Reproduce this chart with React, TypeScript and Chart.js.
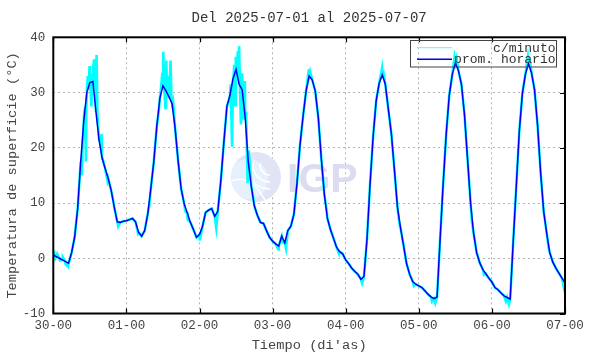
import React, { useEffect, useRef } from "react";
import { Chart, registerables } from "chart.js";

Chart.register(...registerables);

const TITLE = "Del 2025-07-01 al 2025-07-07";
const X_TITLE = "Tiempo (di'as)";
const Y_TITLE = "Temperatura de superficie (°C)";
const dayTickLabels = ["30-00", "01-00", "02-00", "03-00", "04-00", "05-00", "06-00", "07-00"];
const seriesNames = ["c/minuto", "prom. horario"];
const watermarkText = "IGP";

// hourly means, hour 0 = 30-00 ... hour 168 = 07-00
const hourlyTemp = [
  // 30
  0.6, 0.3, 0.0, -0.3, -0.6, -0.9, 1.0, 3.8, 9.0, 17.5, 24.8, 30.0, 31.8, 32.0, 26.5, 21.5, 18.2, 16.3, 14.5, 12.3, 9.3, 6.6, 6.5, 6.7,
  // 01
  6.8, 7.0, 7.2, 6.6, 4.7, 4.0, 5.0, 8.0, 12.5, 17.5, 24.0, 29.0, 31.2, 30.3, 29.2, 28.0, 23.5, 17.5, 12.5, 9.8, 8.2, 6.5, 5.2, 3.8,
  // 02
  4.3, 5.8, 8.3, 8.7, 9.0, 7.6, 8.5, 14.0, 21.0, 27.5, 29.5, 32.5, 34.2, 31.5, 30.5, 25.5, 17.5, 13.0, 9.5, 7.8, 6.5, 6.3, 5.0, 3.8,
  // 03
  3.1, 2.6, 2.2, 4.0, 2.8, 5.0, 5.8, 8.0, 13.5, 20.5, 25.7, 30.3, 33.0, 32.3, 30.3, 25.5, 18.0, 11.5, 7.2, 5.2, 3.6, 2.0, 1.2, 0.8,
  // 04
  -0.3, -1.0, -1.8, -2.4, -2.9, -3.8, -3.3, 3.5, 13.5, 22.0, 28.5, 31.7, 33.2, 31.5, 27.0, 22.5, 16.0, 9.2, 5.5, 2.3, -1.0, -2.9, -4.2, -4.7,
  // 05
  -5.0, -5.3, -5.9, -6.5, -7.0, -7.3, -7.0, 3.5, 13.5, 22.5, 29.5, 33.3, 35.3, 34.0, 31.5, 26.0, 18.0, 10.0, 4.5, 1.0, -0.8, -2.0, -2.8, -3.6,
  // 06
  -4.3, -5.3, -5.7, -6.3, -6.8, -7.1, -7.4, 3.0, 13.0, 23.0, 29.8, 33.3, 35.2, 33.6, 30.5, 24.0, 15.5, 8.5, 4.5, 1.0, -0.7, -1.8, -2.7, -3.6,
  // 07-00
  -4.4,
];

// extra per-minute readings (hour, value) where the minute series departs from the hourly mean
const minuteHours = [
  0.2, 0.7, 1.3, 2.2, 3.1, 4.0, 4.8, 5.3,
  9.3, 9.6, 10.2, 10.5, 10.7, 10.9, 11.3, 11.6, 11.9, 12.2, 12.5, 12.8, 13.1, 13.4, 13.6, 13.9, 14.2, 14.5, 15.6, 15.9, 16.2,
  17.8, 19.5, 21.3,
  27.8, 31.5, 34.6, 35.3, 35.8, 36.1, 36.4, 36.8, 37.1, 37.4, 37.7, 38.1, 38.5, 38.8, 39.3, 43.3, 44.1,
  48.1, 53.5, 57.6, 58.2, 58.7, 59.0, 59.4, 59.7, 59.9, 60.2, 60.6, 61.0, 61.3, 61.6, 62.0, 62.5, 62.9, 63.3, 63.8, 64.2, 65.5,
  73.9, 75.4, 76.4, 83.9, 84.3, 89.8, 93.8,
  101.4, 107.9, 108.4, 113.6, 118.4,
  124.3, 125.4, 131.7, 132.4, 137.4, 141.4,
  148.6, 149.6, 155.8, 156.5, 162.6, 167.6,
];
const minuteTemps = [
  1.4, 0.0, 0.8, -0.4, 0.2, -1.0, -1.5, -0.5,
  15.0, 20.0, 26.5, 27.5, 17.5, 29.0, 33.0, 30.5, 34.8, 31.0, 27.5, 33.5, 34.5, 36.0, 31.0, 33.0, 36.8, 26.0, 20.5, 22.5, 18.0,
  14.0, 11.0, 5.8,
  4.5, 9.5, 26.5, 30.5, 33.5, 37.4, 31.0, 27.2, 35.8, 29.0, 33.0, 30.0, 35.8, 29.0, 28.5, 8.5, 7.0,
  3.2, 5.5, 28.5, 31.5, 20.2, 31.0, 35.0, 27.7, 36.5, 33.0, 37.5, 38.4, 31.0, 24.2, 33.5, 25.1, 32.1, 26.5, 13.6, 19.5, 11.5,
  1.6, 2.8, 1.8, 34.2, 33.8, 8.5, 0.8,
  -4.5, 34.3, 33.6, 6.4, -5.0,
  -7.8, -8.1, 36.3, 36.2, 6.8, -3.0,
  -7.8, -8.3, 36.4, 35.7, 2.0, -5.2,
];

const MONO = "'Liberation Mono', 'DejaVu Sans Mono', monospace";

export default function App() {
  const ref = useRef<HTMLCanvasElement>(null);

  useEffect(() => {
    const canvas = ref.current;
    if (!canvas) return;

    const hourlyPts = hourlyTemp.map((y, i) => ({ x: i, y }));
    const minutePts = [
      ...hourlyPts,
      ...minuteHours.map((x, i) => ({ x, y: minuteTemps[i] })),
    ].sort((a, b) => a.x - b.x);

    const decor = {
      id: "decor",
      beforeDatasetsDraw(chart: any) {
        const ctx = chart.ctx as CanvasRenderingContext2D;
        ctx.save();
        const cx = 256, cy = 177, r = 25;
        ctx.beginPath();
        ctx.arc(cx, cy, r, 0, Math.PI * 2);
        ctx.fillStyle = "#e2e4f6";
        ctx.fill();
        ctx.save();
        ctx.beginPath();
        ctx.arc(cx, cy, r, 0, Math.PI * 2);
        ctx.clip();
        ctx.beginPath();
        ctx.arc(cx - 8, cy + 2, 20, 0, Math.PI * 2);
        ctx.fillStyle = "#e6f1fd";
        ctx.fill();
        ctx.strokeStyle = "#ffffff";
        ctx.lineWidth = 1.6;
        for (const rr of [10, 17, 24]) {
          ctx.beginPath();
          ctx.arc(cx + 14, cy - 12, rr, Math.PI * 0.5, Math.PI * 1.05);
          ctx.stroke();
        }
        ctx.beginPath();
        ctx.moveTo(cx - 25, cy + 4);
        ctx.quadraticCurveTo(cx - 5, cy - 4, cx + 10, cy + 25);
        ctx.stroke();
        ctx.restore();
        ctx.fillStyle = "#dcdcf1";
        ctx.font = "bold 41px 'Liberation Sans', Arial, sans-serif";
        ctx.textAlign = "left";
        ctx.textBaseline = "alphabetic";
        ctx.fillText(watermarkText, 287, 192);
        ctx.restore();
      },
      afterDraw(chart: any) {
        const ctx = chart.ctx as CanvasRenderingContext2D;
        const a = chart.chartArea;
        const xs = chart.scales.x;
        const ys = chart.scales.y;
        ctx.save();
        ctx.strokeStyle = "#000";
        ctx.lineWidth = 1.2;
        ctx.beginPath();
        for (let i = 0; i < dayTickLabels.length; i++) {
          const px = Math.round(xs.getPixelForValue(i * 24)) + 0.5;
          ctx.moveTo(px, a.bottom);
          ctx.lineTo(px, a.bottom - 5);
          ctx.moveTo(px, a.top);
          ctx.lineTo(px, a.top + 5);
        }
        for (const t of ys.ticks) {
          const py = Math.round(ys.getPixelForValue(t.value)) + 0.5;
          ctx.moveTo(a.right, py);
          ctx.lineTo(a.right - 5, py);
        }
        ctx.stroke();
        ctx.lineWidth = 2;
        ctx.strokeRect(a.left, a.top, a.right - a.left, a.bottom - a.top);
        ctx.fillStyle = "#333";
        ctx.font = `14px ${MONO}`;
        ctx.textAlign = "center";
        ctx.textBaseline = "middle";
        ctx.fillText(TITLE, (a.left + a.right) / 2, 18.5);
        ctx.strokeStyle = "#444";
        ctx.lineWidth = 1;
        ctx.strokeRect(410.5, 40.5, 146, 26.5);
        const rows = [
          { y: 47.7, color: "#7ff7ff", w: 1.2 },
          { y: 59.3, color: "#0000ee", w: 1.6 },
        ];
        ctx.font = `13px ${MONO}`;
        ctx.textAlign = "right";
        rows.forEach((row, i) => {
          ctx.strokeStyle = row.color;
          ctx.lineWidth = row.w;
          ctx.beginPath();
          ctx.moveTo(417, row.y);
          ctx.lineTo(452, row.y);
          ctx.stroke();
          ctx.fillStyle = "#333";
          ctx.fillText(seriesNames[i], 555.5, row.y + 0.5);
        });
        ctx.restore();
      },
    };

    const chart = new Chart(canvas, {
      type: "line",
      data: {
        datasets: [
          {
            label: seriesNames[0],
            data: minutePts,
            borderColor: "#00ffff",
            borderWidth: 2.6,
            pointRadius: 0,
            tension: 0,
            order: 1,
          },
          {
            label: seriesNames[1],
            data: hourlyPts,
            borderColor: "#0000ee",
            borderWidth: 1.5,
            pointRadius: 0,
            tension: 0,
            order: 0,
          },
        ],
      },
      options: {
        responsive: false,
        animation: false,
        events: [],
        layout: { padding: { top: 37.3, right: 25, left: 0, bottom: 0 } },
        plugins: {
          legend: { display: false },
          title: { display: false },
          tooltip: { enabled: false },
        },
        scales: {
          x: {
            type: "linear",
            min: 0,
            max: 168,
            ticks: {
              stepSize: 24,
              autoSkip: false,
              maxRotation: 0,
              padding: 5,
              color: "#444",
              font: { family: MONO, size: 12.5 },
              callback: (v: any) => dayTickLabels[Math.round(Number(v) / 24)] ?? "",
            },
            grid: { color: "#b4b4b4", lineWidth: 1, drawTicks: false },
            border: { display: false, dash: [2, 3] },
            title: {
              display: true,
              text: X_TITLE,
              color: "#444",
              font: { family: MONO, size: 13.7 },
              padding: { top: 0, bottom: 0 },
            },
            afterFit: (s: any) => {
              s.height = 40.5;
            },
          },
          y: {
            type: "linear",
            min: -10,
            max: 40,
            ticks: {
              stepSize: 10,
              padding: 8,
              color: "#444",
              font: { family: MONO, size: 12.5 },
            },
            grid: { color: "#b4b4b4", lineWidth: 1, drawTicks: false },
            border: { display: false, dash: [2, 3] },
            title: {
              display: true,
              text: Y_TITLE,
              color: "#444",
              font: { family: MONO, size: 13.7 },
              padding: { top: 4, bottom: 0 },
            },
            afterFit: (s: any) => {
              s.width = 53.3;
            },
          },
        },
      } as any,
      plugins: [decor],
    });

    return () => chart.destroy();
  }, []);

  return (
    <div style={{ position: "absolute", left: 0, top: 0, width: 590, height: 354, background: "#fff" }}>
      <canvas ref={ref} width={590} height={354} style={{ display: "block", width: 590, height: 354 }} />
    </div>
  );
}
